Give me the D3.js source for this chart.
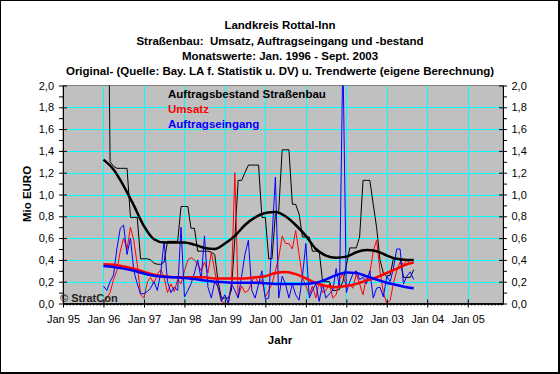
<!DOCTYPE html>
<html>
<head>
<meta charset="utf-8">
<script src="https://cdn.jsdelivr.net/npm/d3@7"></script>
<style>
  body { margin: 0; background: #fff; }
  svg text { font-family: Arial, "Liberation Sans", sans-serif; }
</style>
</head>
<body>
<div id="chart"></div>
<script>
// Titles
var titleLines = [
    "Landkreis Rottal-Inn",
    "Straßenbau:  Umsatz, Auftragseingang und -bestand",
    "Monatswerte: Jan. 1996 - Sept. 2003",
    "Original- (Quelle: Bay. LA f. Statistik u. DV) u. Trendwerte (eigene Berechnung)"
];
var seriesNames = ["Auftragsbestand Straßenbau", "Umsatz", "Auftragseingang"];
var seriesColors = ["#000000", "#FF0000", "#0000FF"];

// monthly values Jan 1996 - Sept 2003 (Mio EURO)
var firstMonth = new Date(1996, 0, 1);
var bestand = [
    4.2, 4.2, 1.30, 1.26, 1.24, 1.24, 1.24, 1.24, 0.79, 0.79, 0.79, 0.41,
    0.41, 0.41, 0.40, 0.37, 0.36, 0.36, 0.38, 0.57, 0.57, 0.57, 0.57, 0.89,
    0.89, 0.89, 0.69, 0.69, 0.48, 0.48, 0.48, 0.48, 0.47, 0.45, 0.20, 0.05,
    0.05, 0.05, 0.12, 0.60, 1.13, 1.13, 1.20, 1.27, 1.27, 1.27, 1.27, 0.79,
    0.79, 0.41, 0.41, 0.82, 0.85, 1.41, 1.41, 1.41, 0.91, 0.91, 0.82, 0.61,
    0.61, 0.61, 0.48, 0.48, 0.48, 0.20, 0.20, 0.20, 0.12, 0.12, 0.13, 0.20,
    0.35, 0.51, 0.51, 0.51, 0.61, 1.13, 1.13, 1.13, 0.91, 0.70, 0.40, 0.28,
    0.25, 0.26, 0.41, 0.41, 0.41, 0.24, 0.24, 0.24, 0.31
];
var umsatz = [
    0.01, 0.05, 0.10, 0.22, 0.30, 0.48, 0.60, 0.50, 0.70, 0.58, 0.36, 0.08,
    0.05, 0.20, 0.24, 0.18, 0.27, 0.31, 0.24, 0.10, 0.18, 0.11, 0.22, 0.18,
    0.30, 0.40, 0.42, 0.40, 0.36, 0.30, 0.38, 0.28, 0.47, 0.30, 0.14, 0.02,
    0.00, 0.00, 0.18, 1.20, 0.06, 0.16, 0.10, 0.12, 0.20, 0.25, 0.18, 0.22,
    0.06, 0.12, 0.18, 0.30, 0.42, 0.62, 0.55, 0.55, 0.50, 0.67, 0.45, 0.24,
    0.16, 0.08, 0.16, 0.05, 0.20, 0.10, 0.12, 0.18, 0.05, 0.08, 0.22, 0.27,
    0.15, 0.18, 0.14, 0.27, 0.18, 0.08, 0.24, 0.28, 0.48, 0.58, 0.30, 0.10,
    0.00, 0.03, 0.18, 0.30, 0.38, 0.36, 0.40, 0.36, 0.38
];
var eingang = [
    0.16, 0.12, 0.20, 0.26, 0.50, 0.69, 0.72, 0.45, 0.60, 0.30, 0.18, 0.09,
    0.09, 0.11, 0.14, 0.20, 0.12, 0.28, 0.57, 0.20, 0.10, 0.15, 0.12, 0.70,
    0.06, 0.12, 0.18, 0.28, 0.40, 0.22, 0.62, 0.15, 0.05, 0.20, 0.15, 0.02,
    0.08, 0.00, 0.18, 0.12, 0.05, 0.25, 0.45, 0.58, 0.12, 0.05, 0.18, 0.30,
    0.04, 0.05, 0.60, 1.16, 0.05, 0.25, 0.18, 0.05, 0.18, 0.08, 0.03, 0.25,
    0.55, 0.05, 0.12, 0.18, 0.02, 0.18, 0.05, 0.09, 0.12, 0.32, 0.15, 2.30,
    0.10, 0.20, 0.27, 0.30, 0.22, 0.24, 0.18, 0.30, 0.05, 0.14, 0.15, 0.06,
    0.25, 0.20, 0.32, 0.50, 0.50, 0.18, 0.25, 0.29, 0.22
];

// trend values (eigene Berechnung), month number counted from Jan 1996
var trendMonths = [0, 3, 6, 9, 12, 15, 18, 21, 24, 27, 30, 33, 36, 39, 42, 45,
                   48, 51, 54, 57, 60, 63, 66, 69, 72, 75, 78, 81, 84, 87, 90, 92];
var bestandTrend = [1.32, 1.23, 1.08, 0.90, 0.71, 0.59, 0.56, 0.56, 0.56, 0.54, 0.51, 0.50, 0.55, 0.62, 0.72, 0.79,
                    0.83, 0.84, 0.80, 0.72, 0.62, 0.50, 0.44, 0.42, 0.43, 0.47, 0.49, 0.48, 0.44, 0.41, 0.40, 0.40];
var umsatzTrend = [0.36, 0.355, 0.34, 0.32, 0.29, 0.265, 0.25, 0.24, 0.24, 0.24, 0.24, 0.23, 0.23, 0.23, 0.23, 0.24,
                   0.25, 0.28, 0.29, 0.27, 0.23, 0.19, 0.16, 0.15, 0.16, 0.18, 0.21, 0.24, 0.28, 0.32, 0.36, 0.375];
var eingangTrend = [0.345, 0.335, 0.32, 0.30, 0.275, 0.255, 0.245, 0.24, 0.235, 0.225, 0.21, 0.20, 0.195, 0.19, 0.19, 0.19,
                    0.185, 0.18, 0.18, 0.18, 0.18, 0.19, 0.22, 0.26, 0.285, 0.28, 0.25, 0.22, 0.19, 0.17, 0.15, 0.14];

// axes
var yTicks = [0, 0.2, 0.4, 0.6, 0.8, 1.0, 1.2, 1.4, 1.6, 1.8, 2.0];
var yMinorTicks = [0.1, 0.3, 0.5, 0.7, 0.9, 1.1, 1.3, 1.5, 1.7, 1.9];
var years = [1995, 1996, 1997, 1998, 1999, 2000, 2001, 2002, 2003, 2004, 2005];
var xTickLabels = ["Jan 95", "Jan 96", "Jan 97", "Jan 98", "Jan 99", "Jan 00", "Jan 01", "Jan 02", "Jan 03", "Jan 04", "Jan 05"];

var width = 560, height = 374;
// plot area edges
var pLeft = 63, pRight = 503, pTop = 85.5, pBottom = 303.5;

var svg = d3.select("#chart").append("svg")
    .attr("width", width).attr("height", height);

// chart border
svg.append("rect").attr("x", 0.5).attr("y", 0.5).attr("width", 558).attr("height", 372)
    .attr("fill", "#fff").attr("stroke", "#000");
svg.append("path").attr("d", "M559.5,0V374M0,373.5H560").attr("stroke", "#000");

var x = d3.scaleTime()
    .domain([new Date(1995, 0, 1), new Date(2005, 10, 15)])
    .range([pLeft, pRight]);
var y = d3.scaleLinear().domain([0, 2]).range([pBottom, pTop]);

function month(i) { return d3.timeMonth.offset(firstMonth, i); }
function crisp(v) { return Math.round(v) + 0.5; }

// plot area
svg.append("rect").attr("x", pLeft).attr("y", pTop).attr("width", pRight - pLeft).attr("height", pBottom - pTop)
    .attr("fill", "#C0C0C0").attr("stroke", "#808080");

var grid = svg.append("g").attr("stroke", "#00FFFF").attr("stroke-width", 1);
grid.selectAll("line.h").data(yTicks.slice(1, -1)).enter().append("line")
    .attr("x1", pLeft).attr("x2", pRight)
    .attr("y1", function (d) { return crisp(y(d)); })
    .attr("y2", function (d) { return crisp(y(d)); });
grid.selectAll("line.v").data(years.slice(1)).enter().append("line")
    .attr("y1", pTop).attr("y2", pBottom)
    .attr("x1", function (d) { return crisp(x(new Date(d, 0, 1))); })
    .attr("x2", function (d) { return crisp(x(new Date(d, 0, 1))); });

svg.append("clipPath").attr("id", "clip").append("rect")
    .attr("x", pLeft).attr("y", pTop).attr("width", pRight - pLeft).attr("height", pBottom - pTop);

var plot = svg.append("g").attr("clip-path", "url(#clip)");

var line = d3.line()
    .x(function (d) { return x(d.date); })
    .y(function (d) { return y(d.value); });
var trendLine = d3.line()
    .curve(d3.curveMonotoneX)
    .x(function (d) { return x(d.date); })
    .y(function (d) { return y(d.value); });

function monthly(values) {
    return values.map(function (v, i) { return { date: month(i), value: v }; });
}
function trend(values) {
    return values.map(function (v, i) { return { date: month(trendMonths[i]), value: v }; });
}

[bestand, umsatz, eingang].forEach(function (s, k) {
    plot.append("path").datum(monthly(s))
        .attr("fill", "none").attr("stroke", seriesColors[k]).attr("stroke-width", 1)
        .attr("d", line);
});
[bestandTrend, umsatzTrend, eingangTrend].forEach(function (s, k) {
    plot.append("path").datum(trend(s))
        .attr("fill", "none").attr("stroke", seriesColors[k]).attr("stroke-width", 2.5)
        .attr("stroke-linejoin", "round")
        .attr("d", trendLine);
});

// y axes (left and right), with crossing major ticks and outward minor ticks
function yLabel(d) { return d3.format(".1f")(d).replace(".", ","); }

var yl = svg.append("g").attr("transform", "translate(" + pLeft + ",0)");
yl.call(d3.axisLeft(y).tickValues(yTicks).tickSize(4).tickSizeOuter(0).tickPadding(5).tickFormat(yLabel));
yl.append("g").call(d3.axisRight(y).tickValues(yTicks).tickSize(4).tickSizeOuter(0).tickFormat(""));
yl.append("g").call(d3.axisLeft(y).tickValues(yMinorTicks).tickSize(4).tickSizeOuter(0).tickFormat(""));

var yr = svg.append("g").attr("transform", "translate(" + pRight + ",0)");
yr.call(d3.axisRight(y).tickValues(yTicks).tickSize(4).tickSizeOuter(0).tickPadding(4.5).tickFormat(yLabel));
yr.append("g").call(d3.axisLeft(y).tickValues(yTicks).tickSize(4).tickSizeOuter(0).tickFormat(""));
yr.append("g").call(d3.axisRight(y).tickValues(yMinorTicks).tickSize(4).tickSizeOuter(0).tickFormat(""));

// x axis
var yearDates = years.map(function (d) { return new Date(d, 0, 1); });
var xa = svg.append("g").attr("transform", "translate(0," + pBottom + ")");
xa.call(d3.axisBottom(x).tickValues(yearDates).tickSize(4).tickSizeOuter(0).tickPadding(7.5)
    .tickFormat(function (d, i) { return xTickLabels[i]; }));
xa.append("g").call(d3.axisTop(x).tickValues(yearDates).tickSize(4).tickSizeOuter(0).tickFormat(""));
xa.append("g").call(d3.axisBottom(x)
    .tickValues(d3.timeMonth.range(new Date(1995, 0, 1), new Date(2005, 11, 1)))
    .tickSize(2).tickSizeOuter(0).tickFormat(""));

svg.selectAll(".tick text").attr("font-size", "11px").attr("fill", "#000").attr("font-family", null);
svg.selectAll(".domain, .tick line").attr("stroke", "#000");

// titles
svg.append("g").selectAll("text").data(titleLines).enter().append("text")
    .attr("x", 280).attr("y", function (d, i) { return [29, 44.5, 59.5, 75][i]; })
    .attr("text-anchor", "middle").attr("font-size", "11.5px").attr("font-weight", "bold")
    .style("white-space", "pre")
    .text(function (d) { return d; });

// legend
svg.append("g").selectAll("text").data(seriesNames).enter().append("text")
    .attr("x", 168).attr("y", function (d, i) { return 98 + i * 15; })
    .attr("font-size", "11.5px").attr("font-weight", "bold")
    .attr("fill", function (d, i) { return seriesColors[i]; })
    .text(function (d) { return d; });

// axis titles
svg.append("text").attr("x", 280).attr("y", 344).attr("text-anchor", "middle")
    .attr("font-size", "11.5px").attr("font-weight", "bold").text("Jahr");
svg.append("text").attr("transform", "translate(31,194) rotate(-90)").attr("text-anchor", "middle")
    .attr("font-size", "11.5px").attr("font-weight", "bold").text("Mio EURO");

svg.append("text").attr("x", 60).attr("y", 302)
    .attr("font-size", "11px").attr("font-weight", "bold").attr("fill", "#222").text("© StratCon");
</script>
</body>
</html>
